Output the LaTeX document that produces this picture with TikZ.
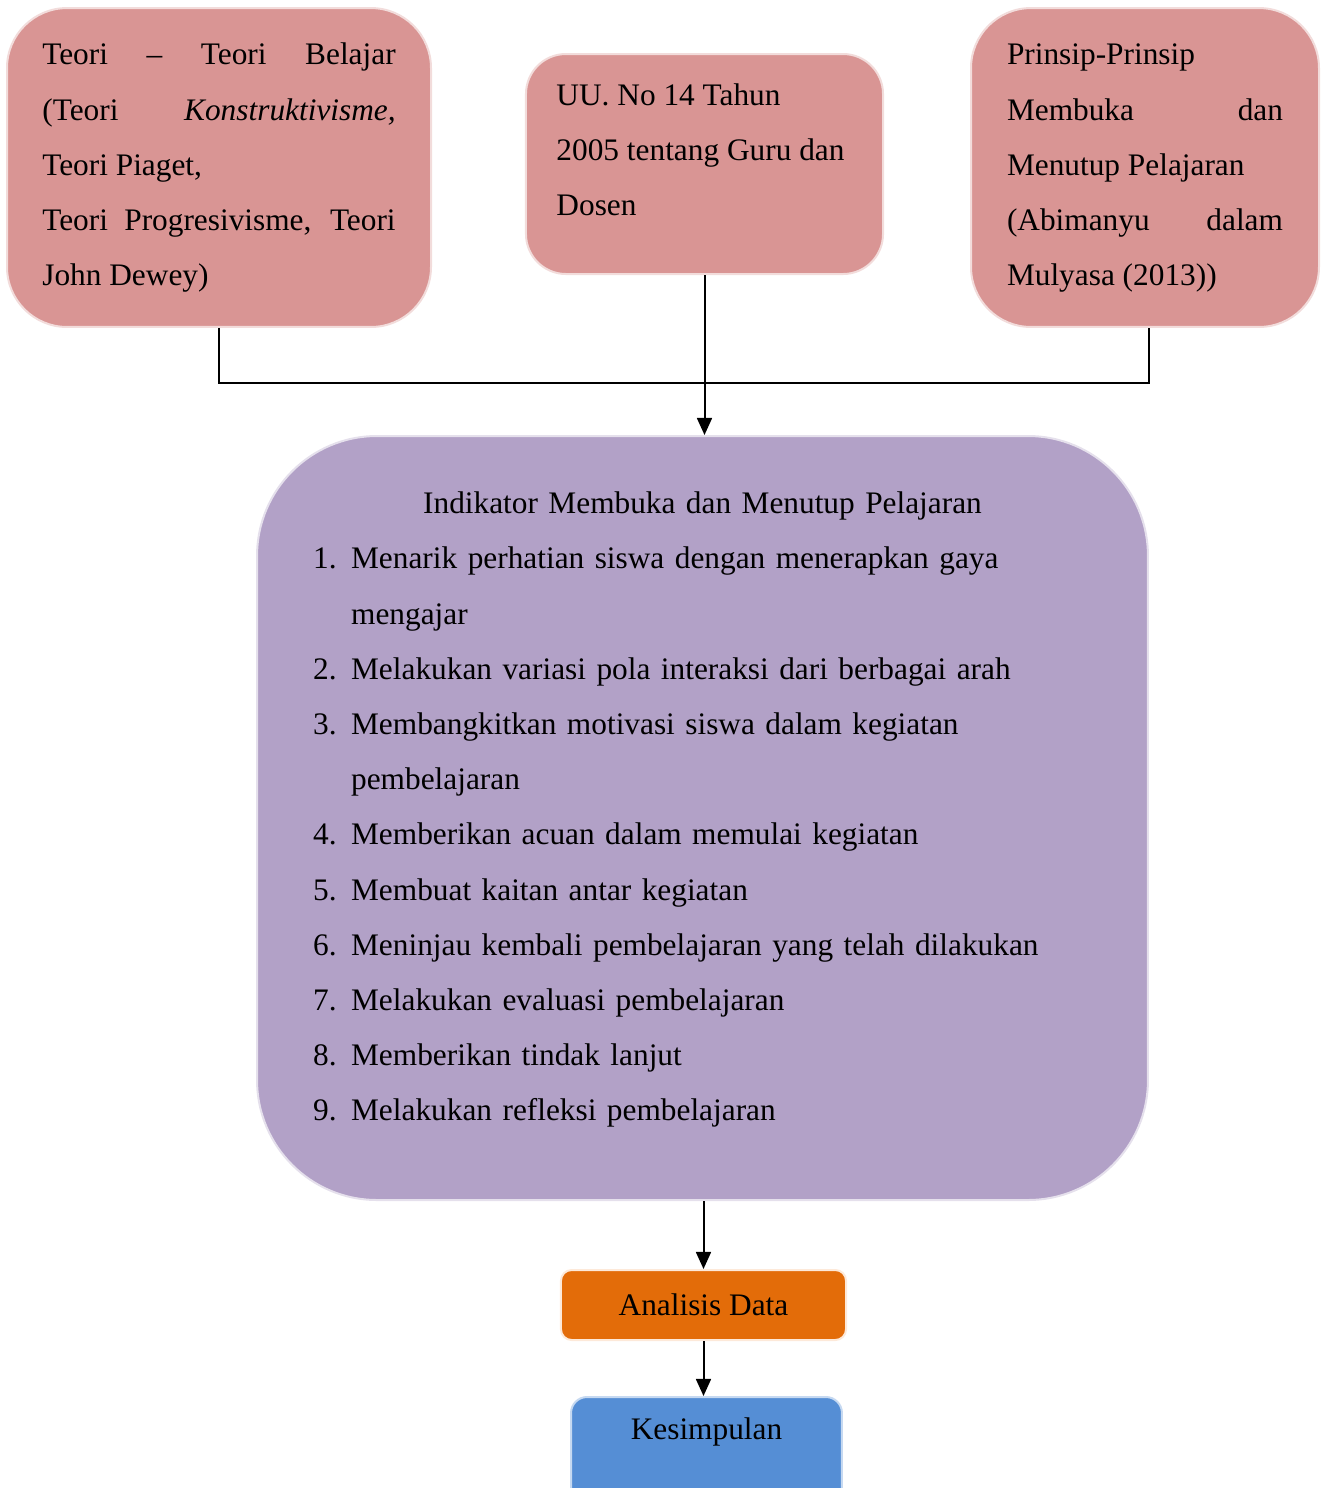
\documentclass[tikz,border=0pt]{standalone}
\usepackage{fontspec}
\setmainfont{Liberation Serif}
\usetikzlibrary{arrows.meta}

\definecolor{merah}{HTML}{D99594}
\definecolor{merahtepi}{HTML}{F2DCDB}
\definecolor{ungu}{HTML}{B2A1C7}
\definecolor{ungutepi}{HTML}{E5E0EC}
\definecolor{oranye}{HTML}{E36C09}
\definecolor{oranyetepi}{HTML}{FDE9D9}
\definecolor{biru}{HTML}{558ED5}
\definecolor{birutepi}{HTML}{C6D9F1}

\tikzset{
    kotak/.style={draw, line width=0.75pt, font=\fontsize{11.75}{20.7}\selectfont},
    kotakmerah/.style={kotak, fill=merah, draw=merahtepi, rounded corners=22.5pt},
    panah/.style={line width=0.75pt}
}

% baris berindentasi gantung untuk daftar indikator
\newcommand{\butir}[2]{\par\hangindent=14.25pt\hangafter=1\noindent\makebox[14.25pt][l]{#1}#2}
\newcommand{\bawah}[1]{\strut\rule[-#1]{0pt}{#1}}

\begin{document}
\begin{tikzpicture}[x=0.375pt, y=-0.375pt, >={Triangle[length=6.4pt,width=5.6pt]}]
    \useasboundingbox (0,0) rectangle (1322,1488);

    \node[kotakmerah, minimum width=159pt, minimum height=119.6pt, text width=132.5pt, align=justify] (teori) at (219,167.5)
        {\strut Teori -- Teori Belajar\linebreak (Teori \textit{Konstruktivisme,}\linebreak Teori Piaget,\\ Teori Progresivisme, Teori\linebreak John Dewey)\bawah{8.6pt}};
    \node[kotakmerah, rounded corners=15pt, minimum width=133.9pt, minimum height=82.5pt, align=left] (uu) at (704.5,164)
        {\strut UU. No 14 Tahun\\ 2005 tentang Guru dan\kern3pt\\ Dosen\bawah{17.25pt}};
    \node[kotakmerah, minimum width=130.5pt, minimum height=119.6pt, text width=103.5pt, align=justify] (prinsip) at (1145,167.5)
        {\strut Prinsip-Prinsip\\ Membuka dan\linebreak Menutup Pelajaran\\ (Abimanyu dalam\linebreak Mulyasa (2013))\bawah{8.6pt}};

    \node[kotak, fill=ungu, draw=ungutepi, rounded corners=45pt, minimum width=334.1pt, minimum height=286.5pt, text width=292pt, align=left] (indikator) at (702.5,818)
        {\strut\makebox[\linewidth][c]{Indikator Membuka dan Menutup Pelajaran}
        \butir{1.}{Menarik perhatian siswa dengan menerapkan gaya\newline mengajar}
        \butir{2.}{Melakukan variasi pola interaksi dari berbagai arah}
        \butir{3.}{Membangkitkan motivasi siswa dalam kegiatan\newline pembelajaran}
        \butir{4.}{Memberikan acuan dalam memulai kegiatan}
        \butir{5.}{Membuat kaitan antar kegiatan}
        \butir{6.}{Meninjau kembali pembelajaran yang telah dilakukan}
        \butir{7.}{Melakukan evaluasi pembelajaran}
        \butir{8.}{Memberikan tindak lanjut}
        \butir{9.}{Melakukan refleksi pembelajaran\bawah{15pt}}};

    \node[kotak, fill=oranye, draw=oranyetepi, rounded corners=4pt, minimum width=106.9pt, minimum height=26.25pt] (analisis) at (703.5,1305) {Analisis Data};
    \node[kotak, fill=biru, draw=birutepi, rounded corners=6pt, minimum width=101.6pt, inner sep=0pt, text height=16pt, text depth=40pt, anchor=north] (kesimpulan) at (706.5,1396) {Kesimpulan};

    % penghubung
    \draw[panah] (teori.south) -- ++(0,55) -| ([xshift=1.5pt]prinsip.south);
    \draw[panah, ->] (uu.south) -- (uu.south |- indikator.north);
    \draw[panah, ->] (analisis.north |- indikator.south) -- (analisis.north);
    \draw[panah, ->] (analisis.south) -- (analisis.south |- kesimpulan.north);
\end{tikzpicture}
\end{document}
